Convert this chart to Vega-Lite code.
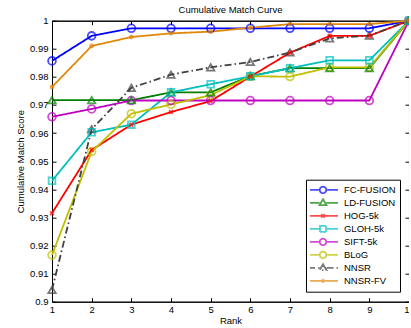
{
  "$schema": "https://vega.github.io/schema/vega-lite/v6.json",
  "width": 357,
  "height": 281,
  "autosize": {"type": "none"},
  "padding": {"left": 52, "top": 20.7, "right": 0, "bottom": 27},
  "background": "white",
  "config": {
    "view": {"stroke": "black", "strokeWidth": 1},
    "font": "Liberation Sans",
    "axis": {"labelFont": "Liberation Sans", "titleFont": "Liberation Sans", "labelColor": "black", "titleColor": "black", "domainColor": "black", "tickColor": "black", "grid": false, "labelFontSize": 9.5, "titleFontSize": 9.5, "titleFontWeight": "normal"}
  },
  "title": {"text": "Cumulative Match Curve", "fontSize": 9.5, "fontWeight": "normal", "font": "Liberation Sans", "offset": -1, "anchor": "middle", "color": "black"},
  "data": {"values": [
    {"Method": "FC-FUSION", "Rank": 1, "Score": 0.9857},
    {"Method": "FC-FUSION", "Rank": 2, "Score": 0.9946},
    {"Method": "FC-FUSION", "Rank": 3, "Score": 0.9973},
    {"Method": "FC-FUSION", "Rank": 4, "Score": 0.9973},
    {"Method": "FC-FUSION", "Rank": 5, "Score": 0.9973},
    {"Method": "FC-FUSION", "Rank": 6, "Score": 0.9973},
    {"Method": "FC-FUSION", "Rank": 7, "Score": 0.9973},
    {"Method": "FC-FUSION", "Rank": 8, "Score": 0.9973},
    {"Method": "FC-FUSION", "Rank": 9, "Score": 0.9973},
    {"Method": "FC-FUSION", "Rank": 10, "Score": 1},
    {"Method": "LD-FUSION", "Rank": 1, "Score": 0.9717},
    {"Method": "LD-FUSION", "Rank": 2, "Score": 0.9717},
    {"Method": "LD-FUSION", "Rank": 3, "Score": 0.9717},
    {"Method": "LD-FUSION", "Rank": 4, "Score": 0.9745},
    {"Method": "LD-FUSION", "Rank": 5, "Score": 0.9745},
    {"Method": "LD-FUSION", "Rank": 6, "Score": 0.9803},
    {"Method": "LD-FUSION", "Rank": 7, "Score": 0.9831},
    {"Method": "LD-FUSION", "Rank": 8, "Score": 0.9831},
    {"Method": "LD-FUSION", "Rank": 9, "Score": 0.9831},
    {"Method": "LD-FUSION", "Rank": 10, "Score": 1},
    {"Method": "HOG-5k", "Rank": 1, "Score": 0.9315},
    {"Method": "HOG-5k", "Rank": 2, "Score": 0.954},
    {"Method": "HOG-5k", "Rank": 3, "Score": 0.963},
    {"Method": "HOG-5k", "Rank": 4, "Score": 0.9675},
    {"Method": "HOG-5k", "Rank": 5, "Score": 0.9714},
    {"Method": "HOG-5k", "Rank": 6, "Score": 0.9801},
    {"Method": "HOG-5k", "Rank": 7, "Score": 0.9886},
    {"Method": "HOG-5k", "Rank": 8, "Score": 0.9946},
    {"Method": "HOG-5k", "Rank": 9, "Score": 0.9946},
    {"Method": "HOG-5k", "Rank": 10, "Score": 1},
    {"Method": "GLOH-5k", "Rank": 1, "Score": 0.943},
    {"Method": "GLOH-5k", "Rank": 2, "Score": 0.9603},
    {"Method": "GLOH-5k", "Rank": 3, "Score": 0.963},
    {"Method": "GLOH-5k", "Rank": 4, "Score": 0.9745},
    {"Method": "GLOH-5k", "Rank": 5, "Score": 0.9774},
    {"Method": "GLOH-5k", "Rank": 6, "Score": 0.9802},
    {"Method": "GLOH-5k", "Rank": 7, "Score": 0.9831},
    {"Method": "GLOH-5k", "Rank": 8, "Score": 0.9859},
    {"Method": "GLOH-5k", "Rank": 9, "Score": 0.9859},
    {"Method": "GLOH-5k", "Rank": 10, "Score": 1},
    {"Method": "SIFT-5k", "Rank": 1, "Score": 0.9658},
    {"Method": "SIFT-5k", "Rank": 2, "Score": 0.9686},
    {"Method": "SIFT-5k", "Rank": 3, "Score": 0.9716},
    {"Method": "SIFT-5k", "Rank": 4, "Score": 0.9716},
    {"Method": "SIFT-5k", "Rank": 5, "Score": 0.9716},
    {"Method": "SIFT-5k", "Rank": 6, "Score": 0.9716},
    {"Method": "SIFT-5k", "Rank": 7, "Score": 0.9716},
    {"Method": "SIFT-5k", "Rank": 8, "Score": 0.9716},
    {"Method": "SIFT-5k", "Rank": 9, "Score": 0.9716},
    {"Method": "SIFT-5k", "Rank": 10, "Score": 1},
    {"Method": "BLoG", "Rank": 1, "Score": 0.9166},
    {"Method": "BLoG", "Rank": 2, "Score": 0.9534},
    {"Method": "BLoG", "Rank": 3, "Score": 0.9669},
    {"Method": "BLoG", "Rank": 4, "Score": 0.9702},
    {"Method": "BLoG", "Rank": 5, "Score": 0.9735},
    {"Method": "BLoG", "Rank": 6, "Score": 0.9802},
    {"Method": "BLoG", "Rank": 7, "Score": 0.9801},
    {"Method": "BLoG", "Rank": 8, "Score": 0.9834},
    {"Method": "BLoG", "Rank": 9, "Score": 0.9834},
    {"Method": "BLoG", "Rank": 10, "Score": 1},
    {"Method": "NNSR", "Rank": 1, "Score": 0.9042},
    {"Method": "NNSR", "Rank": 2, "Score": 0.9614},
    {"Method": "NNSR", "Rank": 3, "Score": 0.9761},
    {"Method": "NNSR", "Rank": 4, "Score": 0.9808},
    {"Method": "NNSR", "Rank": 5, "Score": 0.9834},
    {"Method": "NNSR", "Rank": 6, "Score": 0.9853},
    {"Method": "NNSR", "Rank": 7, "Score": 0.9887},
    {"Method": "NNSR", "Rank": 8, "Score": 0.9937},
    {"Method": "NNSR", "Rank": 9, "Score": 0.9947},
    {"Method": "NNSR", "Rank": 10, "Score": 1},
    {"Method": "NNSR-FV", "Rank": 1, "Score": 0.9764},
    {"Method": "NNSR-FV", "Rank": 2, "Score": 0.991},
    {"Method": "NNSR-FV", "Rank": 3, "Score": 0.9942},
    {"Method": "NNSR-FV", "Rank": 4, "Score": 0.9955},
    {"Method": "NNSR-FV", "Rank": 5, "Score": 0.9961},
    {"Method": "NNSR-FV", "Rank": 6, "Score": 0.9975},
    {"Method": "NNSR-FV", "Rank": 7, "Score": 0.9988},
    {"Method": "NNSR-FV", "Rank": 8, "Score": 0.9988},
    {"Method": "NNSR-FV", "Rank": 9, "Score": 0.9988},
    {"Method": "NNSR-FV", "Rank": 10, "Score": 1}
  ]},
  "resolve": {"axis": {"x": "independent", "y": "independent"}},
  "layer": [
    {
      "mark": {"type": "line", "strokeWidth": 1.8, "clip": false},
      "encoding": {
        "x": {"field": "Rank", "type": "quantitative", "scale": {"domain": [1, 10], "nice": false, "zero": false},
              "axis": {"values": [1,2,3,4,5,6,7,8,9,10], "tickSize": -4, "labelPadding": 7, "title": "Rank", "titlePadding": 1, "labelFlush": false}},
        "y": {"field": "Score", "type": "quantitative", "scale": {"domain": [0.9, 1], "nice": false, "zero": false},
              "axis": {"values": [0.9,0.91,0.92,0.93,0.94,0.95,0.96,0.97,0.98,0.99,1], "format": "~g", "tickSize": -4, "labelPadding": 8, "title": "Cumulative Match Score", "titlePadding": 4, "labelFlush": false}},
        "color": {"field": "Method", "type": "nominal",
          "scale": {"domain": ["FC-FUSION","LD-FUSION","HOG-5k","GLOH-5k","SIFT-5k","BLoG","NNSR","NNSR-FV"],
                    "range": ["#0000ff","#008000","#ff0000","#00bfbf","#bf00bf","#bfbf00","#404040","#e0880a"]}},
        "strokeDash": {"field": "Method", "type": "nominal",
          "scale": {"domain": ["FC-FUSION","LD-FUSION","HOG-5k","GLOH-5k","SIFT-5k","BLoG","NNSR","NNSR-FV"],
                    "range": [[1,0],[1,0],[1,0],[1,0],[1,0],[1,0],[7,3,1.5,3],[1,0]]}}
      }
    },
    {
      "transform": [{"filter": "datum.Method === 'FC-FUSION' || datum.Method === 'SIFT-5k' || datum.Method === 'BLoG'"}],
      "mark": {"type": "point", "filled": false, "shape": "circle", "size": 60, "strokeWidth": 1.8, "clip": false},
      "encoding": {
        "x": {"field": "Rank", "type": "quantitative", "axis": {"orient": "top", "values": [1,2,3,4,5,6,7,8,9,10], "labels": false, "tickSize": -4, "title": null}},
        "y": {"field": "Score", "type": "quantitative", "axis": {"orient": "right", "values": [0.9,0.91,0.92,0.93,0.94,0.95,0.96,0.97,0.98,0.99,1], "labels": false, "tickSize": -4, "title": null}},
        "color": {"field": "Method", "type": "nominal"}
      }
    },
    {
      "transform": [{"filter": "datum.Method === 'LD-FUSION' || datum.Method === 'NNSR'"}],
      "mark": {"type": "point", "filled": false, "shape": "triangle-up", "size": 55, "strokeWidth": 1.8, "clip": false},
      "encoding": {
        "x": {"field": "Rank", "type": "quantitative", "axis": null},
        "y": {"field": "Score", "type": "quantitative", "axis": null},
        "color": {"field": "Method", "type": "nominal"}
      }
    },
    {
      "transform": [{"filter": "datum.Method === 'GLOH-5k'"}],
      "mark": {"type": "point", "filled": false, "shape": "square", "size": 45, "strokeWidth": 1.8, "clip": false},
      "encoding": {
        "x": {"field": "Rank", "type": "quantitative", "axis": null},
        "y": {"field": "Score", "type": "quantitative", "axis": null},
        "color": {"field": "Method", "type": "nominal"}
      }
    },
    {
      "transform": [{"filter": "datum.Method === 'HOG-5k'"}],
      "mark": {"type": "point", "filled": false, "shape": "M-1,-1L1,1M-1,1L1,-1", "size": 14, "strokeWidth": 1.8, "clip": false},
      "encoding": {
        "x": {"field": "Rank", "type": "quantitative", "axis": null},
        "y": {"field": "Score", "type": "quantitative", "axis": null},
        "color": {"field": "Method", "type": "nominal"}
      }
    },
    {
      "transform": [{"filter": "datum.Method === 'NNSR-FV'"}],
      "mark": {"type": "point", "filled": false, "shape": "circle", "size": 5, "strokeWidth": 2.6, "clip": false},
      "encoding": {
        "x": {"field": "Rank", "type": "quantitative", "axis": null},
        "y": {"field": "Score", "type": "quantitative", "axis": null},
        "color": {"field": "Method", "type": "nominal"}
      }
    },
    {
      "mark": {"type": "point", "filled": false, "opacity": 0, "size": 100, "strokeWidth": 1.8},
      "encoding": {
        "x": {"field": "Rank", "type": "quantitative", "axis": null},
        "y": {"field": "Score", "type": "quantitative", "axis": null},
        "color": {"field": "Method", "type": "nominal",
          "legend": {"orient": "none", "legendX": 254, "legendY": 159, "title": null,
            "strokeColor": "black", "fillColor": "white", "padding": 4,
            "labelFont": "Liberation Sans", "labelFontSize": 9.5, "labelColor": "black",
            "symbolSize": 100, "symbolStrokeWidth": 1.8, "symbolOpacity": 1, "symbolFillColor": "transparent", "labelOffset": 20, "rowPadding": 0, "clipHeight": 12.5, "symbolOffset": 2}},
        "strokeDash": {"field": "Method", "type": "nominal",
          "legend": {"orient": "none", "legendX": 254, "legendY": 159, "title": null,
            "strokeColor": "black", "fillColor": "white", "padding": 4,
            "labelFont": "Liberation Sans", "labelFontSize": 9.5, "labelColor": "black",
            "symbolSize": 100, "symbolStrokeWidth": 1.8, "symbolOpacity": 1, "symbolFillColor": "transparent", "labelOffset": 20, "rowPadding": 0, "clipHeight": 12.5, "symbolOffset": 2}},
        "shape": {"field": "Method", "type": "nominal",
          "scale": {"domain": ["FC-FUSION","LD-FUSION","HOG-5k","GLOH-5k","SIFT-5k","BLoG","NNSR","NNSR-FV"],
                    "range": [
                      "M-2,0L0.35,0M1.65,0L4,0M0.35,0A0.65,0.65 0 1 0 1.65,0A0.65,0.65 0 1 0 0.35,0",
                      "M-2,0L0.3,0M1.7,0L4,0M1,-0.75L1.7,0.45L0.3,0.45Z",
                      "M-2,0L4,0M0.65,-0.35L1.35,0.35M0.65,0.35L1.35,-0.35",
                      "M-2,0L0.4,0M1.6,0L4,0M0.4,-0.6L1.6,-0.6L1.6,0.6L0.4,0.6Z",
                      "M-2,0L0.35,0M1.65,0L4,0M0.35,0A0.65,0.65 0 1 0 1.65,0A0.65,0.65 0 1 0 0.35,0",
                      "M-2,0L0.35,0M1.65,0L4,0M0.35,0A0.65,0.65 0 1 0 1.65,0A0.65,0.65 0 1 0 0.35,0",
                      "M-2,0L0.3,0M1.7,0L4,0M1,-0.75L1.7,0.45L0.3,0.45Z",
                      "M-2,0L4,0M0.8,0A0.2,0.2 0 1 0 1.2,0A0.2,0.2 0 1 0 0.8,0"
                    ]},
          "legend": {"orient": "none", "legendX": 254, "legendY": 159, "title": null,
            "strokeColor": "black", "fillColor": "white", "padding": 4,
            "labelFont": "Liberation Sans", "labelFontSize": 9.5, "labelColor": "black",
            "symbolSize": 100, "symbolStrokeWidth": 1.8, "symbolOpacity": 1, "symbolFillColor": "transparent", "labelOffset": 20, "rowPadding": 0, "clipHeight": 12.5, "symbolOffset": 2}}
      }
    }
  ]
}
